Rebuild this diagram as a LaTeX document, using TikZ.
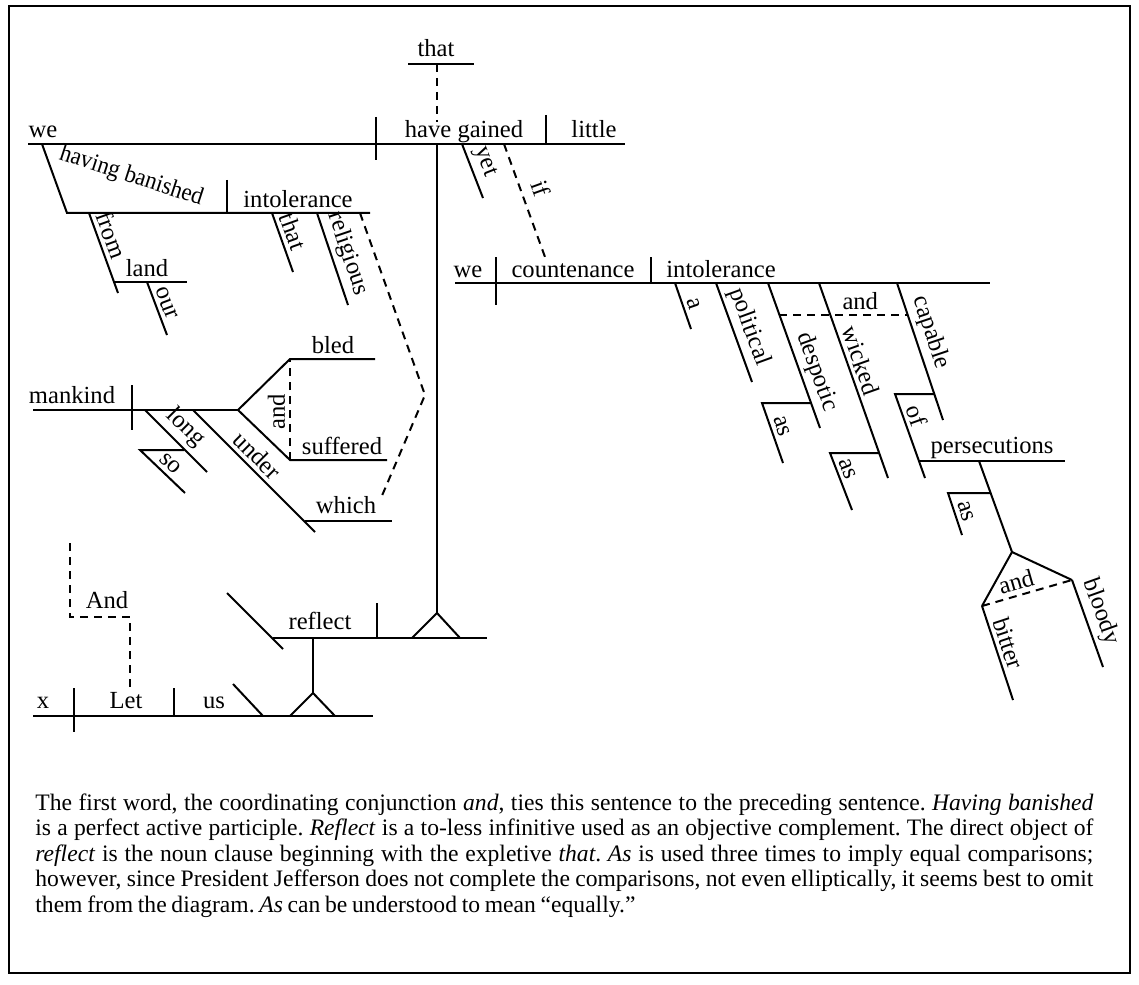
\documentclass[tikz,border=0pt]{standalone}
\usepackage{fontspec}
\setmainfont{Liberation Serif}
\usetikzlibrary{positioning}
\newcommand\dgfont{\fontsize{12.3}{14}\selectfont}
\newcommand\notefont{\fontsize{11.8}{12.75}\selectfont}
\tikzset{rule/.style={line width=1pt},
  dashrule/.style={line width=1pt,dash pattern=on 4pt off 3pt},
  word/.style={anchor=base,inner sep=0pt,font=\dgfont},
  slant/.style={sloped,above,inner sep=2pt,font=\dgfont}}

\begin{document}
\begin{tikzpicture}[x=0.5pt,y=-0.5pt]
\useasboundingbox (0,0) rectangle (1139,984);
\draw[line width=1.2pt] (9,6) rectangle (1130,973);

% main clause
\draw[rule] (28,144) -- (625,144);
\draw[rule] (376,117) -- (376,160);
\draw[rule] (546,115) -- (546,144);
\node[word] (we) at (43,138) {we};
\node[word] (gained) at (464,138) {have gained};
\node[word] (little) at (594,138) {little};

% expletive
\draw[rule] (408,64) -- (474,64);
\node[word] (that) at (436,57) {that};
\draw[dashrule] (437,64) -- (437,122);

% modifiers of the verb
\draw[rule] (462,144) -- node[slant,pos=0.43] (yet) {yet} (483,198);
\draw[dashrule] (504,144) -- node[slant,pos=0.45,inner sep=5pt] (if) {if} (545,257);

% participle phrase
\draw[rule] (42,144) -- (67,213) -- (370,213);
\node[font=\dgfont,anchor=base west,rotate=-18,inner sep=0pt] (banished) at (58,159) {\scalebox{0.93}[1]{having banished}};
\draw[rule] (227,180) -- (227,213);
\node[word] (intol) at (298,207) {intolerance};
\draw[rule] (89,213) -- node[slant,pos=0.33] (from) {from} (118,293);
\draw[rule] (115,282) -- (187,282);
\node[word] (land) at (147,276) {land};
\draw[rule] (147,282) -- node[slant,pos=0.47] (our) {our} (167,335);
\draw[rule] (272,213) -- node[slant,pos=0.39] (thatadj) {that} (293,272);
\draw[rule] (317,213) -- node[slant,pos=0.5] (religious) {religious} (348,305);
\draw[dashrule] (360,213) -- (425,395) -- (381,498);

% relative clause
\draw[rule] (33,410) -- (238,410);
\draw[rule] (132,385) -- (132,430);
\node[word] (mankind) at (72,403) {mankind};
\draw[rule] (238,410) -- (290,359) -- (375,359);
\draw[rule] (238,410) -- (290,460) -- (387,460);
\node[word] (bled) at (333,353) {bled};
\node[word] (suffered) at (342,454) {suffered};
\draw[dashrule] (290,460) -- node[slant,pos=0.48] (andvb) {and} (290,359);
\draw[rule] (145,410) -- node[slant,pos=0.47] (long) {long} (207,472);
\draw[rule] (184,450) -- (140,450) -- node[slant,pos=0.5] (so) {so} (185,493);
\draw[rule] (193,410) -- node[slant,pos=0.45] (under) {under} (315,532);
\draw[rule] (305,521) -- (392,521);
\node[word] (which) at (346,513) {which};

% infinitive
\draw[rule] (437,144) -- (437,613);
\draw[rule] (412,638) -- (437,613) -- (460,638);
\draw[rule] (273,638) -- (487,638);
\draw[rule] (377,603) -- (377,638);
\draw[rule] (227,593) -- (283,649);
\node[word] (reflect) at (320,629) {reflect};

% imperative
\draw[rule] (313,638) -- (313,693);
\draw[rule] (290,716) -- (313,693) -- (335,716);
\draw[rule] (33,716) -- (373,716);
\draw[rule] (74,688) -- (74,732);
\draw[rule] (174,688) -- (174,716);
\draw[rule] (233,684) -- (263,716);
\node[word] (x) at (43,708) {x};
\node[word] (let) at (126,708) {Let};
\node[word] (us) at (214,708) {us};
\draw[dashrule] (70,543) -- (70,617) -- (130,617) -- (130,690);
\node[word] (andsent) at (107,608) {And};

% if clause
\draw[rule] (455,283) -- (990,283);
\draw[rule] (496,257) -- (496,305);
\draw[rule] (651,257) -- (651,283);
\node[word] (wesub) at (468,277) {we};
\node[word] (countenance) at (573,277) {countenance};
\node[word] (intolobj) at (721,277) {intolerance};
\draw[rule] (675,283) -- node[slant,pos=0.52] (a) {a} (691,329);
\draw[rule] (716,283) -- node[slant,pos=0.5] (political) {political} (752,382);
\draw[rule] (768,283) -- node[slant,pos=0.65] (despotic) {despotic} (820,428);
\draw[rule] (811,403) -- (762,403) -- node[slant,pos=0.45] (asone) {as} (783,463);
\draw[rule] (819,283) -- node[slant,pos=0.42] (wicked) {wicked} (888,478);
\draw[rule] (879,453) -- (830,453) -- node[slant,pos=0.35] (astwo) {as} (852,510);
\draw[rule] (897,283) -- node[slant,pos=0.4] (capable) {capable} (943,420);
\draw[dashrule] (779,315) -- node[slant,pos=0.63] (andadj) {and} (908,315);

% prepositional phrase
\draw[rule] (934,394) -- (895,394) -- node[slant,pos=0.31] (of) {of} (925,478);
\draw[rule] (918,461) -- (1065,461);
\node[word] (persecutions) at (992,453) {persecutions};
\draw[rule] (979,461) -- (1012,552);
\draw[rule] (990,493) -- (948,493) -- node[slant,pos=0.52] (asthree) {as} (962,535);
\draw[rule] (982,606) -- (1012,552) -- (1072,580);
\draw[rule] (982,606) -- node[slant,pos=0.44] (bitter) {bitter} (1013,700);
\draw[rule] (1072,580) -- node[slant,pos=0.43] (bloody) {bloody} (1103,667);
\draw[dashrule] (982,606) -- node[slant,pos=0.42] (andpp) {and} (1072,580);

% note
\node[anchor=base west,inner sep=0pt,font=\notefont] (note) at (35,810) {\parbox[t]{529pt}{\frenchspacing\spaceskip=.2em plus .2em minus .06em
The first word, the coordinating conjunction \textit{and}, ties this sentence to the preceding sentence. \textit{Having banished}\linebreak
is a perfect active participle. \textit{Reflect} is a to-less infinitive used as an objective complement. The direct object of\linebreak
\textit{reflect} is the noun clause beginning with the expletive \textit{that}. \textit{As} is used three times to imply equal comparisons;\linebreak
however, since President Jefferson does not complete the comparisons, not even elliptically, it seems best to omit\linebreak
them from the diagram. \textit{As} can be understood to mean “equally.”}};
\end{tikzpicture}
\end{document}
